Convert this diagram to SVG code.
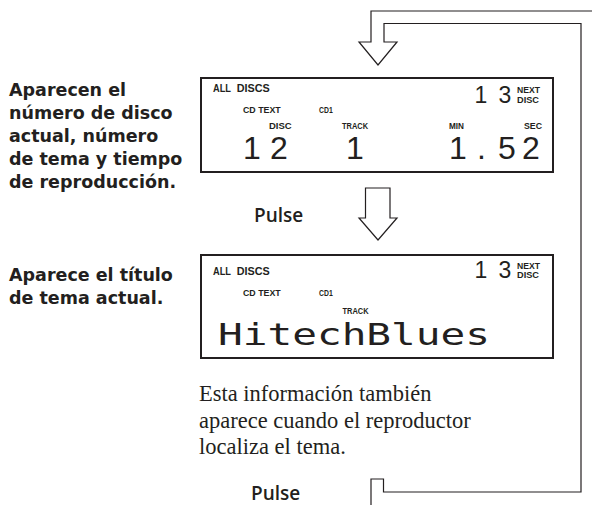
<svg xmlns="http://www.w3.org/2000/svg" width="592" height="505" viewBox="0 0 592 505">
<style>
.bg{fill:#fff}
.box{fill:#fff;stroke:#231f20;stroke-width:2}
.pipe{fill:none;stroke:#231f20;stroke-width:1.2}
.lbl{font-family:"DejaVu Sans",sans-serif;font-weight:bold;font-size:17.5px;fill:#231f20}
.pulse{font-family:"Open Sans","DejaVu Sans",sans-serif;font-weight:600;font-size:19px;fill:#231f20}
.note{font-family:"Liberation Serif",serif;font-size:22.5px;fill:#231f20}
.sm{font-family:"Liberation Sans",Arial,sans-serif;font-weight:bold;font-size:8.5px;fill:#231f20}
.al{font-family:"Liberation Sans",Arial,sans-serif;font-weight:bold;font-size:10px;fill:#231f20}
.big{font-family:"Liberation Sans",Arial,sans-serif;font-size:32px;fill:#231f20;text-anchor:middle}
.mid{font-family:"Liberation Sans",Arial,sans-serif;font-size:23px;fill:#231f20;text-anchor:middle}
.lcd{font-family:"DejaVu Sans Mono",monospace;font-size:30px;fill:#231f20}
</style>
<rect class="bg" x="0" y="0" width="592" height="505"/>

<g id="connectors">
<path class="pipe" d="M371,505 V479 H383.5 V492 H581 V23.5 H384 V42 H397 L378,65 L359,42 H371 V11 H592"/>
<path class="pipe" d="M365.5,188 V218 H359 L378,240 L397,218 H390 V188 Z"/>
</g>

<g id="label1">
<text class="lbl" x="9" y="95.5">Aparecen el</text>
<text class="lbl" x="9" y="118.5">número de disco</text>
<text class="lbl" x="9" y="141.5">actual, número</text>
<text class="lbl" x="9" y="164.5">de tema y tiempo</text>
<text class="lbl" x="9" y="187.5">de reproducción.</text>
</g>

<g id="display1">
<rect class="box" x="201" y="78" width="352" height="94"/>
<text class="al" x="213" y="91.7" textLength="18" lengthAdjust="spacingAndGlyphs">ALL</text>
<text class="al" x="236.7" y="91.7" textLength="33" lengthAdjust="spacingAndGlyphs">DISCS</text>
<text class="sm" x="243" y="112.7" textLength="37.7" lengthAdjust="spacingAndGlyphs">CD TEXT</text>
<text class="sm" x="319" y="112.7" textLength="13.7" lengthAdjust="spacingAndGlyphs">CD1</text>
<text class="mid" x="481" y="103.3">1</text>
<text class="mid" x="505" y="103.3">3</text>
<text class="sm" x="517" y="93.3" textLength="23" lengthAdjust="spacingAndGlyphs">NEXT</text>
<text class="sm" x="517" y="103.3" textLength="22" lengthAdjust="spacingAndGlyphs">DISC</text>
<text class="sm" x="269" y="129.3" textLength="22.7" lengthAdjust="spacingAndGlyphs">DISC</text>
<text class="sm" x="342" y="129.3" textLength="26" lengthAdjust="spacingAndGlyphs">TRACK</text>
<text class="sm" x="449" y="129.3" textLength="15" lengthAdjust="spacingAndGlyphs">MIN</text>
<text class="sm" x="524" y="129.3" textLength="18" lengthAdjust="spacingAndGlyphs">SEC</text>
<text class="big" x="252" y="159">1</text>
<text class="big" x="279" y="159">2</text>
<text class="big" x="355" y="159">1</text>
<text class="big" x="458" y="159">1</text>
<text class="big" x="481.5" y="159">.</text>
<text class="big" x="507" y="159">5</text>
<text class="big" x="531" y="159">2</text>
</g>

<g id="pulse1">
<text class="pulse" x="254" y="222">Pulse</text>
</g>

<g id="label2">
<text class="lbl" x="9" y="281">Aparece el título</text>
<text class="lbl" x="9" y="304">de tema actual.</text>
</g>

<g id="display2">
<rect class="box" x="201" y="255" width="352" height="103"/>
<text class="al" x="213" y="275" textLength="18" lengthAdjust="spacingAndGlyphs">ALL</text>
<text class="al" x="236.7" y="275" textLength="33" lengthAdjust="spacingAndGlyphs">DISCS</text>
<text class="sm" x="243" y="296" textLength="37.7" lengthAdjust="spacingAndGlyphs">CD TEXT</text>
<text class="sm" x="319" y="296" textLength="13.7" lengthAdjust="spacingAndGlyphs">CD1</text>
<text class="mid" x="481" y="278.3">1</text>
<text class="mid" x="505" y="278.3">3</text>
<text class="sm" x="517" y="269.3" textLength="23" lengthAdjust="spacingAndGlyphs">NEXT</text>
<text class="sm" x="517" y="277.8" textLength="22" lengthAdjust="spacingAndGlyphs">DISC</text>
<text class="sm" x="342.5" y="314" textLength="26" lengthAdjust="spacingAndGlyphs">TRACK</text>
<text class="lcd" x="218" y="345" textLength="272" lengthAdjust="spacingAndGlyphs">HitechBlues</text>
</g>

<g id="note">
<text class="note" x="199" y="401">Esta información también</text>
<text class="note" x="199" y="427.5">aparece cuando el reproductor</text>
<text class="note" x="199" y="454">localiza el tema.</text>
</g>

<g id="pulse2">
<text class="pulse" x="251" y="500">Pulse</text>
</g>
</svg>
